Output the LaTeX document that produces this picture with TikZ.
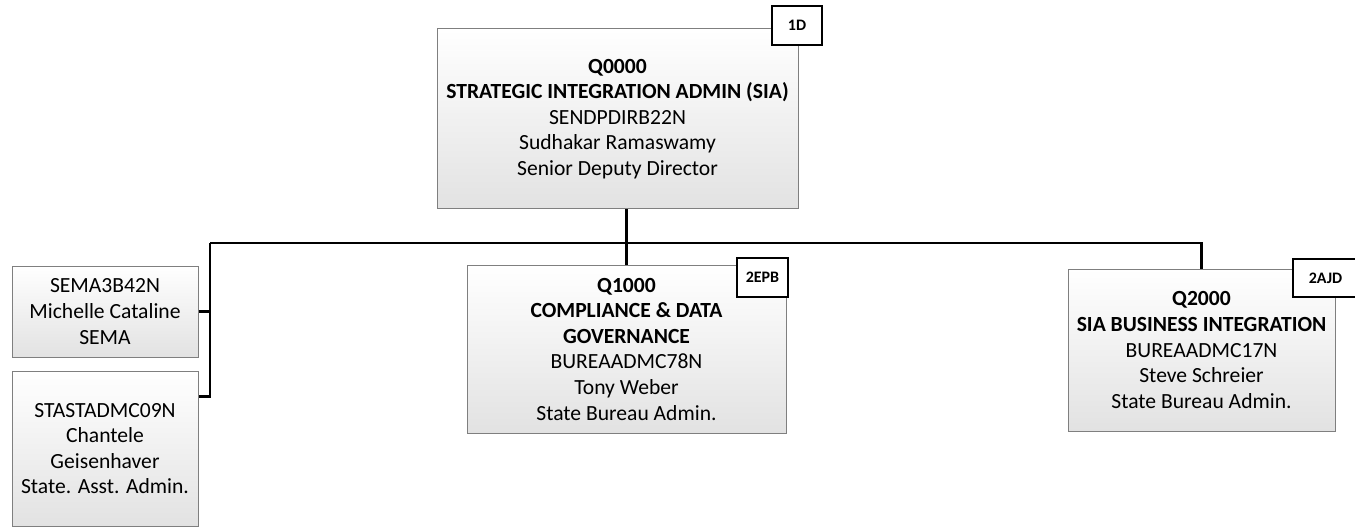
\documentclass[tikz,border=0pt]{standalone}
\usepackage{fontspec}
\setmainfont{Carlito}
\usetikzlibrary{positioning,calc}
\definecolor{edge}{HTML}{7F7F7F}
\definecolor{shd}{HTML}{E2E2E2}
\tikzset{
  posbox/.style={draw=edge,line width=0.75pt,top color=white,bottom color=shd,
    align=center,inner sep=0pt,font=\fontsize{16.2}{19.2}\selectfont},
  tagbox/.style={draw=black,line width=1.3pt,fill=white,inner sep=0pt,
    font=\fontsize{12}{13}\selectfont\bfseries},
  link/.style={line width=1.6pt,black}
}

\begin{document}
\begin{tikzpicture}[x=0.75pt,y=-0.75pt]
  \useasboundingbox (0,0) rectangle (1355,527);
  % positions
  \node[posbox,minimum width=270.75pt,minimum height=135pt] (q0) at (617.5,119)
    {\textbf{Q0000}\\ \textbf{STRATEGIC INTEGRATION ADMIN (SIA)}\\ SENDPDIRB22N\\ Sudhakar Ramaswamy\\ Senior Deputy Director};
  \node[posbox,minimum width=239.25pt,minimum height=126pt] (q1) at (626.5,349)
    {\textbf{Q1000}\\ \textbf{COMPLIANCE \& DATA}\\ \textbf{GOVERNANCE}\\ BUREAADMC78N\\ Tony Weber\\ State Bureau Admin.};
  \node[posbox,minimum width=200.25pt,minimum height=121.5pt] (q2) at (1201.5,350)
    {\textbf{Q2000}\\ \textbf{SIA BUSINESS INTEGRATION}\\ BUREAADMC17N\\ Steve Schreier\\ State Bureau Admin.};
  \node[posbox,minimum width=139.5pt,minimum height=68.25pt] (a1) at (105,311.5)
    {SEMA3B42N\\ Michelle Cataline\\ SEMA};
  \node[posbox,minimum width=139.5pt,minimum height=116.25pt] (a2) at (105,448.5)
    {STASTADMC09N\\ Chantele\\ Geisenhaver\\ State. Asst. Admin.};
  % tags
  \node[tagbox,minimum width=37.5pt,minimum height=29.25pt] (t0) at (797,25.5) {1D};
  \node[tagbox,minimum width=38.25pt,minimum height=29.25pt] (t1) at (762.5,277.5) {2EPB};
  \node[tagbox,minimum width=48.75pt,minimum height=28.5pt] (t2) at (1325.5,278) {2AJD};
  % connectors
  \coordinate (busL) at (210,243);
  \draw[link] (q0.south -| q1.north) -- (q1.north);
  \draw[link] (busL) -- (busL -| q2.north) -- (q2.north);
  \draw[link] (a1.east) -- (a1.east -| busL);
  \draw[link] (busL) |- ([yshift=-19.5pt]a2.north east);
\end{tikzpicture}
\end{document}
